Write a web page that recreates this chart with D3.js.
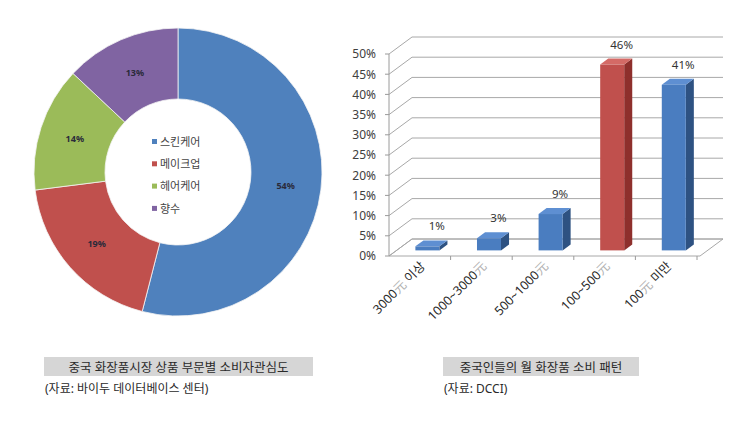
<!DOCTYPE html>
<html>
<head>
<meta charset="utf-8">
<script src="https://cdn.jsdelivr.net/npm/d3@7"></script>
<style>
  html, body { margin: 0; padding: 0; background: #fff; }
  svg { display: block; font-family: "Noto Sans", "Noto Sans CJK KR", sans-serif; }
</style>
</head>
<body>
<svg id="chart" width="740" height="430"></svg>
<script>
// ---------- data ----------
const pieCategories = ["스킨케어", "메이크업", "헤어케어", "향수"];
const pieValues = [54, 19, 14, 13];
const pieColors = ["#4F81BD", "#C0504D", "#9BBB59", "#8064A2"];

const barCategories = ["3000元 이상", "1000~3000元", "500~1000元", "100~500元", "100元 미만"];
const barValues = [1, 3, 9, 46, 41];
const barHighlight = [false, false, false, true, false];
const yTicks = [0, 5, 10, 15, 20, 25, 30, 35, 40, 45, 50];

const leftTitle = "중국 화장품시장 상품 부문별 소비자관심도";
const leftSource = "(자료: 바이두 데이터베이스 센터)";
const rightTitle = "중국인들의 월 화장품 소비 패턴";
const rightSource = "(자료: DCCI)";

const svg = d3.select("#chart");

// ---------- donut ----------
const cx = 178, cy = 172, rOuter = 144, rInner = 73;
const pie = d3.pie().sort(null).value(d => d);
const arcs = pie(pieValues);
const arc = d3.arc().innerRadius(rInner).outerRadius(rOuter);
const gPie = svg.append("g").attr("transform", `translate(${cx},${cy})`);
gPie.selectAll("path").data(arcs).join("path")
  .attr("d", arc)
  .attr("fill", (d, i) => pieColors[i])
  .attr("stroke", "#f4f4f4").attr("stroke-width", 0.8);
gPie.selectAll("text.lbl").data(arcs).join("text")
  .attr("class", "lbl")
  .attr("transform", d => `translate(${arc.centroid(d)})`)
  .attr("text-anchor", "middle").attr("dy", "0.35em")
  .attr("font-size", 9).attr("font-weight", "bold").attr("fill", "#2a2a3a")
  .text(d => d.data + "%");

const legend = svg.append("g");
pieCategories.forEach((c, i) => {
  const y = 142 + i * 22.3;
  legend.append("rect").attr("x", 152).attr("y", y - 3).attr("width", 5).attr("height", 5)
    .attr("fill", pieColors[i]);
  legend.append("text").attr("x", 160).attr("y", y).attr("dy", "0.35em")
    .attr("font-size", 11).attr("fill", "#444").text(c);
});

// ---------- 3D bar chart ----------
const DX = 23, DY = -17;
const x = d3.scaleBand().domain(barCategories).range([389, 697]).paddingInner(0).paddingOuter(0);
const y = d3.scaleLinear().domain([0, 50]).range([256, 54]);
const gBar = svg.append("g");
const gridColor = "#a8a8a8";

// floor
const floorY = y(0);
gBar.append("path")
  .attr("d", `M${x.range()[0]},${floorY} L${x.range()[1] + 3},${floorY} L${x.range()[1] + 3 + DX},${floorY + DY} L${x.range()[0] + DX},${floorY + DY} Z`)
  .attr("fill", "#fff").attr("stroke", gridColor).attr("stroke-width", 1);

// gridlines (left wall diagonal + back wall)
yTicks.forEach(v => {
  const yy = y(v);
  gBar.append("path")
    .attr("d", `M${x.range()[0]},${yy} L${x.range()[0] + DX},${yy + DY} L${x.range()[1] + 3 + DX},${yy + DY}`)
    .attr("fill", "none").attr("stroke", gridColor).attr("stroke-width", 1);
});

// y axis (front)
gBar.append("line").attr("x1", 389).attr("x2", 389).attr("y1", y(0)).attr("y2", y(50))
  .attr("stroke", "#9a9a9a");
yTicks.forEach(v => {
  gBar.append("line").attr("x1", 385).attr("x2", 389).attr("y1", y(v)).attr("y2", y(v))
    .attr("stroke", "#9a9a9a");
  gBar.append("text").attr("x", 376).attr("y", y(v)).attr("dy", "0.36em")
    .attr("text-anchor", "end").attr("font-size", 12).attr("fill", "#404040")
    .text(v + "%");
});
// x ticks
barCategories.forEach((c, i) => {
  const xx = x(c) + x.bandwidth();
  gBar.append("line").attr("x1", xx).attr("x2", xx).attr("y1", y(0)).attr("y2", y(0) + 4)
    .attr("stroke", "#9a9a9a");
});

// bars
const f1 = 0.33, f2 = 0.68, barW = 24;
barCategories.forEach((c, i) => {
  const v = barValues[i];
  const hi = barHighlight[i];
  const front = hi ? "#C0504D" : "#4A7DC0";
  const side = hi ? "#8E2F2C" : "#2E5282";
  const top = hi ? "#D46A66" : "#5E8FD2";
  const x0 = x(c) + (x.bandwidth() - barW) / 2 + f1 * DX;
  const yTop = y(v) + f1 * DY;
  const yBot = y(0) + f1 * DY;
  const ddx = (f2 - f1) * DX, ddy = (f2 - f1) * DY;
  gBar.append("path")
    .attr("d", `M${x0 + barW},${yTop} L${x0 + barW + ddx},${yTop + ddy} L${x0 + barW + ddx},${yBot + ddy} L${x0 + barW},${yBot} Z`)
    .attr("fill", side);
  gBar.append("path")
    .attr("d", `M${x0},${yTop} L${x0 + ddx},${yTop + ddy} L${x0 + barW + ddx},${yTop + ddy} L${x0 + barW},${yTop} Z`)
    .attr("fill", top);
  gBar.append("rect").attr("x", x0).attr("y", yTop).attr("width", barW).attr("height", yBot - yTop)
    .attr("fill", front);
  // value label
  gBar.append("text")
    .attr("x", x(c) + x.bandwidth() / 2 + 17)
    .attr("y", y(v) + 0.5 * DY - 13)
    .attr("text-anchor", "middle").attr("font-size", 11.5).attr("fill", "#333")
    .text(v + "%");
});

// x labels (rotated)
barCategories.forEach((c, i) => {
  const t = gBar.append("text")
    .attr("transform", `translate(${x(c) + x.bandwidth() / 2 + 6},${y(0) + 11}) rotate(-45)`)
    .attr("text-anchor", "end").attr("font-size", 12.5).attr("fill", "#2a2a2a");
  const parts = c.split("元");
  parts.forEach((p, j) => {
    if (j > 0) t.append("tspan").attr("fill", "#b0b0b0").text("元");
    if (p) t.append("tspan").text(p);
  });
});

// ---------- captions ----------
function caption(x0, w, title, source) {
  svg.append("rect").attr("x", x0).attr("y", 357).attr("width", w).attr("height", 19).attr("fill", "#d6d6d6");
  svg.append("text").attr("x", x0 + w / 2).attr("y", 367).attr("dy", "0.36em")
    .attr("text-anchor", "middle").attr("font-size", 12.5).attr("fill", "#2a2a2a").text(title);
  svg.append("text").attr("x", x0 + 1).attr("y", 389).attr("dy", "0.36em")
    .attr("font-size", 12).attr("fill", "#2a2a2a").text(source);
}
caption(44, 269, leftTitle, leftSource);
caption(443, 196, rightTitle, rightSource);
</script>
</body>
</html>
